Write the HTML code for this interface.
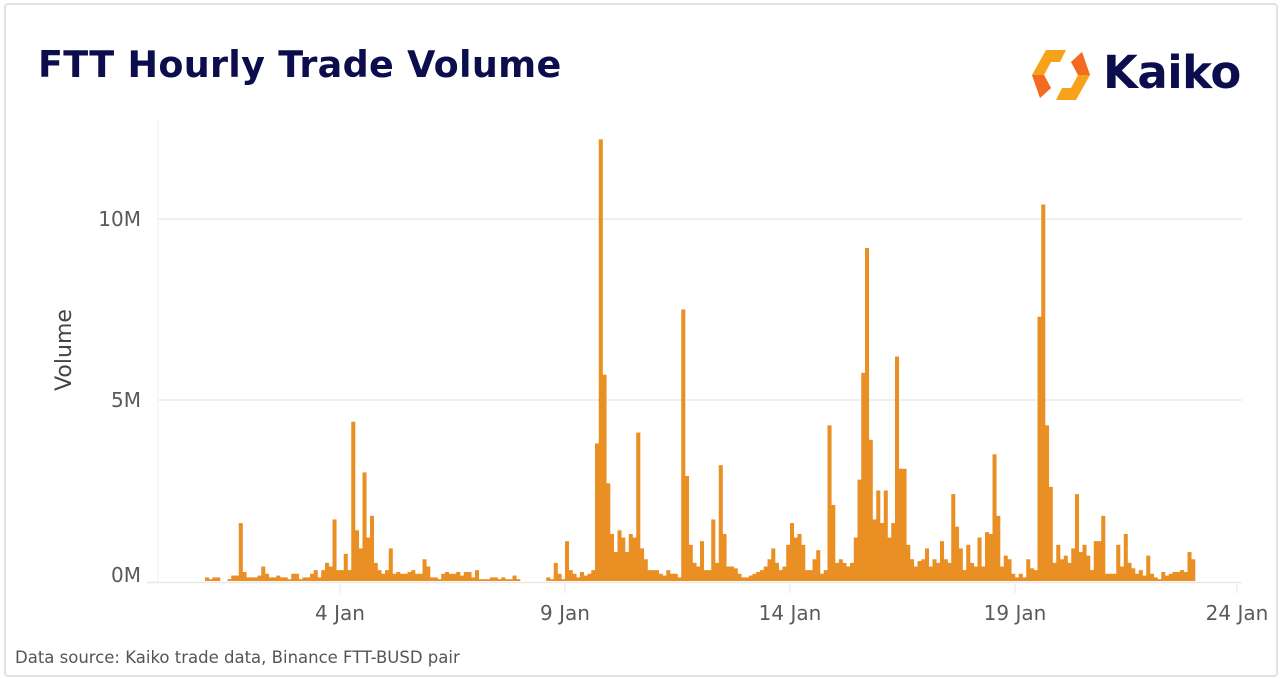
<!DOCTYPE html>
<html><head><meta charset="utf-8">
<style>
html,body{margin:0;padding:0;background:#fff;}
#wrap{position:relative;width:1280px;height:678px;overflow:hidden;background:#fff;}
#frame{position:absolute;left:4px;top:3px;width:1270px;height:670px;border:2px solid #e2e2e2;border-radius:4px;}
#title{position:absolute;left:38px;top:43px;font:bold 36.5px "DejaVu Sans","Liberation Sans",sans-serif;color:#0b0d4d;letter-spacing:0.3px;}
#src{position:absolute;left:15px;top:648px;font:16.5px "DejaVu Sans","Liberation Sans",sans-serif;color:#555;}
#logo-text{position:absolute;left:1103px;top:46px;font:bold 45px "DejaVu Sans","Liberation Sans",sans-serif;color:#0b0d4d;letter-spacing:-0.5px;}
</style></head>
<body>
<div id="wrap">
<div id="frame"></div>
<div id="title">FTT Hourly Trade Volume</div>
<svg style="position:absolute;left:1030px;top:46px" width="62" height="58" viewBox="0 0 62 58">
<path d="M16 4 L36 4 L30 16 L21 16 L14 29 L21 42 L10 52 L2 29 Z" fill="#f7a21b"/>
<path d="M46 54 L26 54 L32 42 L41 42 L48 29 L41 16 L52 6 L60 29 Z" fill="#f7a21b"/>
<path d="M2 29 L14 29 L21 42 L10 52 Z" fill="#f26b21"/>
<path d="M60 29 L48 29 L41 16 L52 6 Z" fill="#f26b21"/>
</svg>
<div id="logo-text">Kaiko</div>
<svg id="chart" style="position:absolute;left:0;top:0" width="1280" height="678"></svg>
<div id="src">Data source: Kaiko trade data, Binance FTT-BUSD pair</div>
</div>
<script>
// 2-hour bins starting 1 Jan 00:00, values in millions
const day01 = [0.1,0.05,0.1,0.1,0,0,0.05,0.15,0.15,1.6,0.25,0.1];
const day02 = [0.1,0.1,0.15,0.4,0.2,0.1,0.1,0.15,0.1,0.1,0.05,0.2];
const day03 = [0.2,0.05,0.1,0.1,0.2,0.3,0.1,0.3,0.5,0.4,1.7,0.3];
const day04 = [0.3,0.75,0.3,4.4,1.4,0.9,3.0,1.2,1.8,0.5,0.3,0.2];
const day05 = [0.3,0.9,0.2,0.25,0.2,0.2,0.25,0.3,0.2,0.2,0.6,0.4];
const day06 = [0.1,0.1,0.05,0.2,0.25,0.2,0.2,0.25,0.15,0.25,0.25,0.1];
const day07 = [0.3,0.05,0.05,0.05,0.1,0.1,0.05,0.1,0.05,0.05,0.15,0.05];
const day08 = [0,0,0,0,0,0,0,0.1,0.05,0.5,0.2,0.05];
const day09 = [1.1,0.3,0.2,0.1,0.25,0.15,0.2,0.3,3.8,12.2,5.7,2.7];
const day10 = [1.3,0.8,1.4,1.2,0.8,1.3,1.2,4.1,0.9,0.6,0.3,0.3];
const day11 = [0.3,0.2,0.15,0.3,0.2,0.2,0.1,7.5,2.9,1.0,0.5,0.4];
const day12 = [1.1,0.3,0.3,1.7,0.5,3.2,1.3,0.4,0.4,0.35,0.2,0.1];
const day13 = [0.1,0.15,0.2,0.25,0.3,0.4,0.6,0.9,0.5,0.3,0.4,1.0];
const day14 = [1.6,1.2,1.3,1.0,0.3,0.3,0.6,0.85,0.2,0.3,4.3,2.1];
const day15 = [0.5,0.6,0.5,0.4,0.5,1.2,2.8,5.75,9.2,3.9,1.7,2.5];
const day16 = [1.6,2.5,1.2,1.6,6.2,3.1,3.1,1.0,0.6,0.4,0.55,0.6];
const day17 = [0.9,0.4,0.6,0.5,1.1,0.6,0.5,2.4,1.5,0.9,0.3,1.0];
const day18 = [0.5,0.4,1.2,0.4,1.35,1.3,3.5,1.8,0.4,0.7,0.6,0.2];
const day19 = [0.1,0.2,0.1,0.6,0.35,0.3,7.3,10.4,4.3,2.6,0.5,1.0];
const day20 = [0.6,0.7,0.5,0.9,2.4,0.8,1.0,0.7,0.3,1.1,1.1,1.8];
const day21 = [0.2,0.2,0.2,1.0,0.4,1.3,0.5,0.35,0.2,0.3,0.15,0.7];
const day22 = [0.2,0.1,0.05,0.25,0.15,0.2,0.25,0.25,0.3,0.25,0.8,0.6];
const volumes = [].concat(day01,day02,day03,day04,day05,day06,day07,day08,day09,day10,day11,day12,day13,day14,day15,day16,day17,day18,day19,day20,day21,day22);
const yTicks = [0,5,10];
const yTickLabels = ["0M","5M","10M"];
const xTickDays = [3,8,13,18,23]; // days since 1 Jan 00:00
const xTickLabels = ["4 Jan","9 Jan","14 Jan","19 Jan","24 Jan"];

const NS="http://www.w3.org/2000/svg";
const svg=document.getElementById('chart');
const plotL=158, plotR=1242, plotTop=120, base=581;
const day0X=205, pxPerDay=45, binsPerDay=12;
function xScale(d){return day0X+d*pxPerDay;}
function yScale(v){return base - v*36.2;}
function mk(tag,attrs){const e=document.createElementNS(NS,tag);for(const k in attrs)e.setAttribute(k,attrs[k]);svg.appendChild(e);return e;}

yTicks.forEach((t,i)=>{
  const y=yScale(t);
  if(t>0){const g=mk('line',{x1:plotL,x2:plotR,y1:y,y2:y,stroke:'#ececec','stroke-width':1.5});
  
  }
  const tx=mk('text',{x:141,y:(t===0?y-6:y)+7,'text-anchor':'end','font-family':'DejaVu Sans, Liberation Sans, sans-serif','font-size':20,fill:'#5a5a5a'});
  tx.textContent=yTickLabels[i];
  
  
});
const yax=mk('line',{x1:plotL,x2:plotL,y1:plotTop,y2:base+1,stroke:'#f0f0f0','stroke-width':1});


const xax=mk('line',{x1:147,x2:plotR,y1:base+1.5,y2:base+1.5,stroke:'#e8e8e8','stroke-width':1.5});



const bw=pxPerDay/binsPerDay;
volumes.forEach((v,i)=>{
  const x=xScale(i/binsPerDay);
  const y=yScale(v);
  const r=mk('rect',{x:x.toFixed(2),y:y.toFixed(2),width:(bw+0.3).toFixed(2),height:(base-y).toFixed(2),fill:'#ea8f23'});
  
  
});

xTickDays.forEach((d,i)=>{
  const x=xScale(d)+(i===4?-3:0);
  const tk=mk('line',{x1:x,x2:x,y1:base+3,y2:base+12,stroke:'#e6e6e6','stroke-width':1});
  
  
  const tx=mk('text',{x:x,y:620,'text-anchor':'middle','font-family':'DejaVu Sans, Liberation Sans, sans-serif','font-size':20,fill:'#5a5a5a'});
  tx.textContent=xTickLabels[i];
  
  
});
const yt=mk('text',{x:0,y:0,transform:'translate(71,350) rotate(-90)','text-anchor':'middle','font-family':'DejaVu Sans, Liberation Sans, sans-serif','font-size':22,fill:'#444'});
yt.textContent='Volume';


</script>
</body></html>
